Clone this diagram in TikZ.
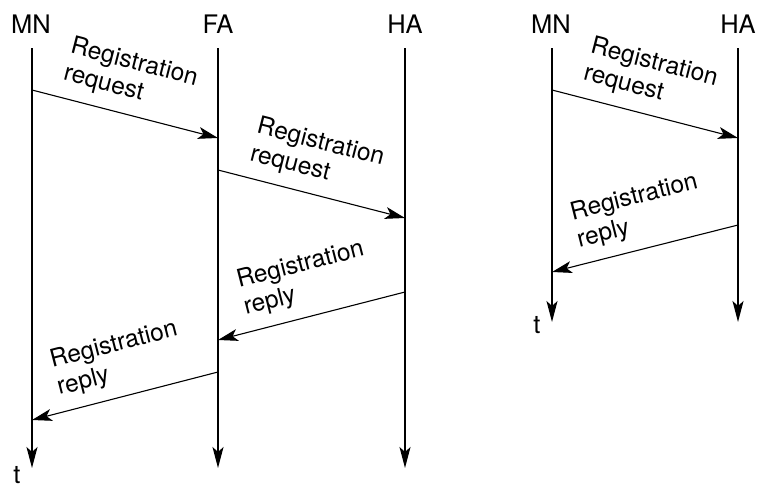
\documentclass[tikz,border=0pt]{standalone}
\usepackage{fontspec}
\setmainfont{TeX Gyre Heros}
\usetikzlibrary{arrows.meta}
\tikzset{
  entity/.style={
    inner sep=0pt,
    anchor=base,
    font=\fontsize{25.5}{30}\selectfont
  },
  lifeline/.style={
    line width=1.8pt,
    -{Stealth[length=21pt,width=11pt,inset=5pt]}
  },
  message/.style={
    line width=1.1pt,
    -{Stealth[length=20pt,width=12pt,inset=5pt]}
  },
  msgtext/.style={
    sloped,
    above,
    align=left,
    inner sep=0pt,
    outer sep=12pt,
    font=\fontsize{24.5}{28}\selectfont
  }
}

\begin{document}
\begin{tikzpicture}[x=1pt,y=-1pt]
    \useasboundingbox (0,0) rectangle (762,494);

    % 左: FA 経由
    \node[entity] (mnA) at (31,34) {MN};
    \node[entity] (faA) at (218,34) {FA};
    \node[entity] (haA) at (405,34) {HA};
    \coordinate (mnAend) at (32,468);
    \coordinate (faAend) at (218,468);
    \coordinate (haAend) at (405,468);
    \node[entity] (tA) at (17,483) {t};

    \draw[lifeline] ([xshift=1pt,yshift=-14pt]mnA.south) -- (mnAend);
    \draw[lifeline] ([yshift=-14pt]faA.south) -- (faAend);
    \draw[lifeline] ([yshift=-14pt]haA.south) -- (haAend);

    \coordinate (a1) at (32,90);
    \coordinate (a2) at (218,138);
    \coordinate (a3) at (218,170);
    \coordinate (a4) at (405,218);
    \coordinate (a5) at (405,292);
    \coordinate (a6) at (218,340);
    \coordinate (a7) at (218,372);
    \coordinate (a8) at (32,420);

    \draw[message] (a1) -- node[msgtext,pos=0.48] {Registration\\request} (a2);
    \draw[message] (a3) -- node[msgtext,pos=0.48] {Registration\\request} (a4);
    \draw[message] (a5) -- node[msgtext,pos=0.49] {Registration\\reply} (a6);
    \draw[message] (a7) -- node[msgtext,pos=0.49] {Registration\\reply} (a8);

    % 右: 直接 HA
    \node[entity] (mnB) at (551,34) {MN};
    \node[entity] (haB) at (738,34) {HA};
    \coordinate (mnBend) at (552,322);
    \coordinate (haBend) at (738,322);
    \node[entity] (tB) at (537,333) {t};

    \draw[lifeline] ([xshift=1pt,yshift=-14pt]mnB.south) -- (mnBend);
    \draw[lifeline] ([yshift=-14pt]haB.south) -- (haBend);

    \coordinate (b1) at (552,90);
    \coordinate (b2) at (738,138);
    \coordinate (b3) at (738,225);
    \coordinate (b4) at (552,272);

    \draw[message] (b1) -- node[msgtext,pos=0.48] {Registration\\request} (b2);
    \draw[message] (b3) -- node[msgtext,pos=0.49] {Registration\\reply} (b4);
\end{tikzpicture}
\end{document}
